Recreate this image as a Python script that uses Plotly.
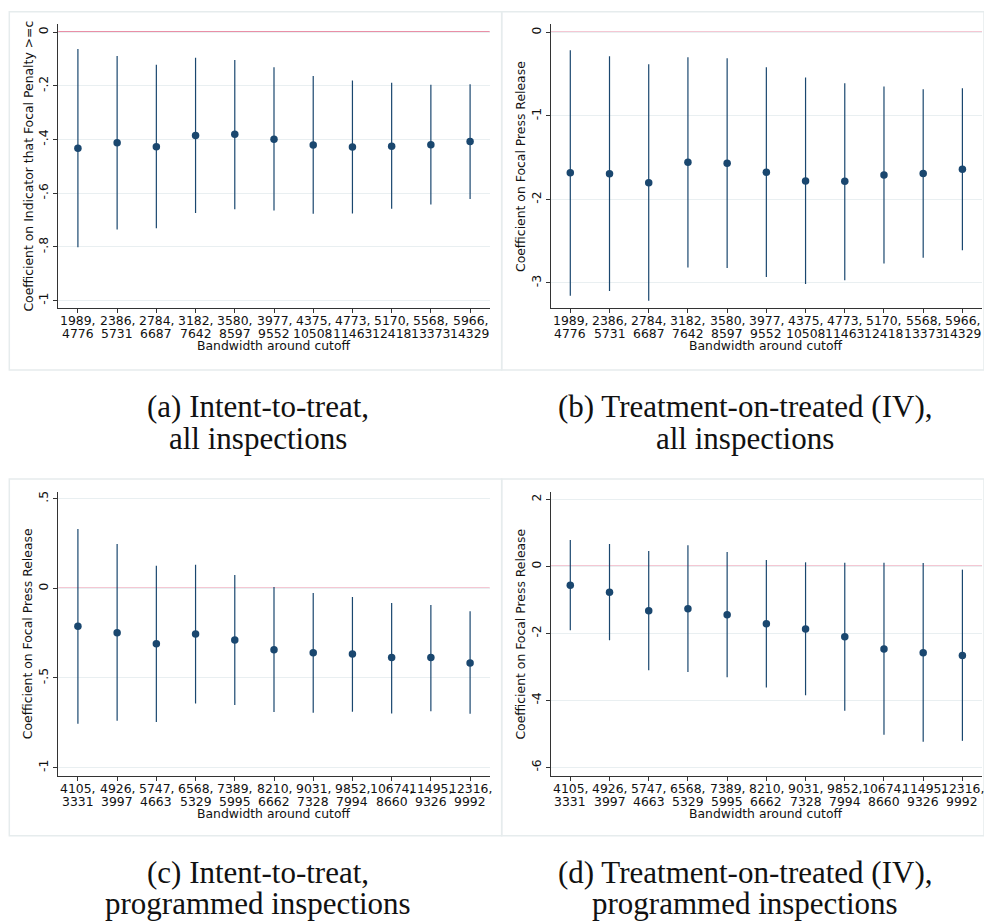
import plotly.graph_objects as go

# Bandwidth labels (below / above cutoff) for each sample
bw_all_a = [1989, 2386, 2784, 3182, 3580, 3977, 4375, 4773, 5170, 5568, 5966]
bw_all_b = [4776, 5731, 6687, 7642, 8597, 9552, 10508, 11463, 12418, 13373, 14329]
bw_prog_a = [4105, 4926, 5747, 6568, 7389, 8210, 9031, 9852, 10674, 11495, 12316]
bw_prog_b = [3331, 3997, 4663, 5329, 5995, 6662, 7328, 7994, 8660, 9326, 9992]

# (a) Intent-to-treat, all inspections
itt_all_coef = [-0.433, -0.412, -0.427, -0.385, -0.381, -0.399, -0.421, -0.428, -0.425, -0.420, -0.408]
itt_all_lo = [-0.802, -0.735, -0.731, -0.674, -0.660, -0.665, -0.677, -0.676, -0.658, -0.642, -0.622]
itt_all_hi = [-0.063, -0.089, -0.122, -0.096, -0.104, -0.131, -0.164, -0.180, -0.189, -0.196, -0.194]

# (b) Treatment-on-treated (IV), all inspections
tot_all_coef = [-1.683, -1.695, -1.800, -1.555, -1.567, -1.675, -1.780, -1.785, -1.710, -1.690, -1.639]
tot_all_lo = [-3.154, -3.098, -3.214, -2.815, -2.823, -2.930, -3.014, -2.970, -2.770, -2.700, -2.610]
tot_all_hi = [-0.215, -0.287, -0.383, -0.299, -0.311, -0.419, -0.542, -0.610, -0.650, -0.682, -0.670]

# (c) Intent-to-treat, programmed inspections
itt_prog_coef = [-0.212, -0.248, -0.309, -0.255, -0.289, -0.343, -0.359, -0.367, -0.386, -0.386, -0.417]
itt_prog_lo = [-0.756, -0.739, -0.746, -0.642, -0.651, -0.690, -0.694, -0.689, -0.698, -0.686, -0.700]
itt_prog_hi = [0.331, 0.247, 0.126, 0.132, 0.074, 0.007, -0.026, -0.049, -0.082, -0.093, -0.128]

# (d) Treatment-on-treated (IV), programmed inspections
tot_prog_coef = [-0.567, -0.776, -1.325, -1.265, -1.444, -1.713, -1.872, -2.100, -2.470, -2.580, -2.660]
tot_prog_lo = [-1.910, -2.210, -3.100, -3.155, -3.310, -3.620, -3.850, -4.310, -5.030, -5.240, -5.210]
tot_prog_hi = [0.785, 0.666, 0.457, 0.627, 0.427, 0.188, 0.119, 0.107, 0.107, 0.099, -0.100]

# y-axis ticks per panel
yticks_a = [0, -0.2, -0.4, -0.6, -0.8, -1]
ylabels_a = ["0", "-.2", "-.4", "-.6", "-.8", "-1"]
yticks_b = [0, -1, -2, -3]
ylabels_b = ["0", "-1", "-2", "-3"]
yticks_c = [0.5, 0, -0.5, -1]
ylabels_c = [".5", "0", "-.5", "-1"]
yticks_d = [2, 0, -2, -4, -6]
ylabels_d = ["2", "0", "-2", "-4", "-6"]

captions = [
    ("(a) Intent-to-treat,", "all inspections"),
    ("(b) Treatment-on-treated (IV),", "all inspections"),
    ("(c) Intent-to-treat,", "programmed inspections"),
    ("(d) Treatment-on-treated (IV),", "programmed inspections"),
]
ytitles = [
    "Coefficient on Indicator that Focal Penalty >=c",
    "Coefficient on Focal Press Release",
    "Coefficient on Focal Press Release",
    "Coefficient on Focal Press Release",
]
xtitle = "Bandwidth around cutoff"

W, H = 984, 922
NAVY = "#1a476f"
RED = "#d4204f"
GRID = "#e9eff1"
INK = "#111"
SANS = "DejaVu Sans"
SERIF = "Liberation Serif, Times New Roman, serif"
FS = 12.4


def px(x):
    return x / W


def py(y):
    return 1 - y / H


panels = [
    dict(coef=itt_all_coef, lo=itt_all_lo, hi=itt_all_hi, tv=yticks_a, tt=ylabels_a,
         bw=(bw_all_a, bw_all_b), yr=[-1.029, 0.029],
         xd=[58.3, 489.7], yd=[24.3, 308.3], box=[9.3, 11.7, 501.7, 370]),
    dict(coef=tot_all_coef, lo=tot_all_lo, hi=tot_all_hi, tv=yticks_b, tt=ylabels_b,
         bw=(bw_all_a, bw_all_b), yr=[-3.305, 0.096],
         xd=[550.7, 982.0], yd=[24.3, 308.3], box=[501.7, 11.7, 984, 370]),
    dict(coef=itt_prog_coef, lo=itt_prog_lo, hi=itt_prog_hi, tv=yticks_c, tt=ylabels_c,
         bw=(bw_prog_a, bw_prog_b), yr=[-1.047, 0.539],
         xd=[58.3, 489.7], yd=[491.7, 776.0], box=[9.3, 479, 501.7, 835.7]),
    dict(coef=tot_prog_coef, lo=tot_prog_lo, hi=tot_prog_hi, tv=yticks_d, tt=ylabels_d,
         bw=(bw_prog_a, bw_prog_b), yr=[-6.26, 2.227],
         xd=[550.7, 982.0], yd=[491.7, 776.0], box=[501.7, 479, 984, 835.7]),
]

fig = go.Figure()
shapes = []
annotations = []

for i, p in enumerate(panels):
    k = "" if i == 0 else str(i + 1)
    xa, ya = "x" + k, "y" + k
    n = len(p["coef"])
    idx = list(range(n))

    # panel frame
    x0, y0, x1, y1 = p["box"]
    shapes.append(dict(type="rect", xref="paper", yref="paper",
                       x0=px(x0), x1=px(x1), y0=py(y1), y1=py(y0),
                       line=dict(color="#e6eced", width=1.5), fillcolor="rgba(0,0,0,0)",
                       layer="below"))

    err_up = [h - c for h, c in zip(p["hi"], p["coef"])]
    err_dn = [c - l for c, l in zip(p["coef"], p["lo"])]
    fig.add_trace(go.Scatter(
        x=idx, y=p["coef"], mode="markers", xaxis=xa, yaxis=ya,
        marker=dict(color=NAVY, size=7.5),
        error_y=dict(type="data", symmetric=False, array=err_up, arrayminus=err_dn,
                     color=NAVY, thickness=1.2, width=0),
        showlegend=False, hoverinfo="skip"))

    # zero reference line
    shapes.append(dict(type="line", xref=xa + " domain", yref=ya, x0=0, x1=1, y0=0, y1=0,
                       line=dict(color=RED, width=1.3), layer="below"))

    fig.layout["xaxis" + k] = dict(
        domain=[px(p["xd"][0]), px(p["xd"][1])], anchor=ya, range=[-0.5, 10.5],
        tickmode="array", tickvals=idx, showticklabels=False,
        ticks="outside", ticklen=4, tickcolor="#333", showline=True, linecolor="#333",
        linewidth=1, showgrid=False, zeroline=False)
    fig.layout["yaxis" + k] = dict(
        domain=[py(p["yd"][1]), py(p["yd"][0])], anchor=xa, range=p["yr"],
        tickmode="array", tickvals=p["tv"], ticktext=p["tt"], tickangle=-90,
        ticks="outside", ticklen=4, tickcolor="#333", showline=True, linecolor="#333",
        linewidth=1, showgrid=True, gridcolor=GRID, gridwidth=1, zeroline=False,
        tickfont=dict(family=SANS, size=FS, color=INK))

    # two-line bandwidth tick labels, tightly stacked
    ybase = p["yd"][1]
    lows, highs = p["bw"]
    for j, (u, v) in enumerate(zip(lows, highs)):
        annotations.append(dict(xref=xa, yref="paper", x=j, y=py(ybase + 12.4),
                                text=f"{u},", showarrow=False,
                                font=dict(family=SANS, size=FS, color=INK),
                                xanchor="center", yanchor="middle"))
        annotations.append(dict(xref=xa, yref="paper", x=j, y=py(ybase + 25.0),
                                text=f"{v}", showarrow=False,
                                font=dict(family=SANS, size=FS, color=INK),
                                xanchor="center", yanchor="middle"))

    xmid = (p["xd"][0] + p["xd"][1]) / 2
    ymid = (p["yd"][0] + p["yd"][1]) / 2
    # axis titles
    annotations.append(dict(xref="paper", yref="paper", x=px(xmid), y=py(ybase + 37.4),
                            text=xtitle, showarrow=False,
                            font=dict(family=SANS, size=FS, color=INK),
                            xanchor="center", yanchor="middle"))
    annotations.append(dict(xref="paper", yref="paper", x=px(p["xd"][0] - 30), y=py(ymid),
                            text=ytitles[i], showarrow=False, textangle=-90,
                            font=dict(family=SANS, size=FS, color=INK),
                            xanchor="center", yanchor="middle"))

    # captions
    cx = (x0 + x1) / 2 + 2
    cy = y1 + 37
    line1, line2 = captions[i]
    annotations.append(dict(xref="paper", yref="paper", x=px(cx), y=py(cy),
                            text=line1, showarrow=False,
                            font=dict(family=SERIF, size=31, color=INK),
                            xanchor="center", yanchor="middle"))
    annotations.append(dict(xref="paper", yref="paper", x=px(cx), y=py(cy + 31),
                            text=line2, showarrow=False,
                            font=dict(family=SERIF, size=31, color=INK),
                            xanchor="center", yanchor="middle"))

fig.update_layout(
    width=W, height=H, margin=dict(l=0, r=0, t=0, b=0),
    paper_bgcolor="white", plot_bgcolor="white",
    shapes=shapes, annotations=annotations,
)

fig.write_html("out.html")
